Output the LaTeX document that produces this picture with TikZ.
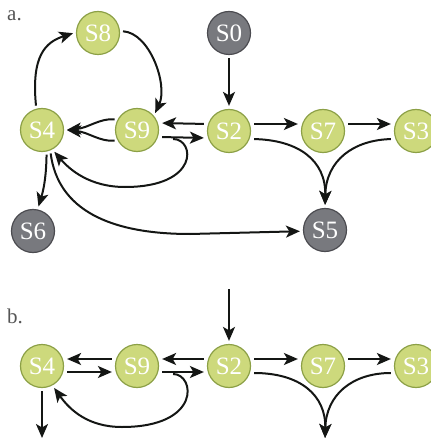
\documentclass[tikz,border=0pt]{standalone}
\usepackage{fontspec}
\setmainfont{Liberation Serif}
\usetikzlibrary{arrows.meta}
\definecolor{gfill}{RGB}{205,217,124}
\definecolor{gdraw}{RGB}{140,160,70}
\definecolor{kfill}{RGB}{120,121,126}
\definecolor{kdraw}{RGB}{75,75,80}
\definecolor{lbl}{RGB}{85,85,85}
\definecolor{ink}{RGB}{20,22,20}
\begin{document}
\begin{tikzpicture}[x=1pt,y=1pt,
 state/.style={circle, minimum size=43pt, inner sep=0pt, line width=1.2pt, text=white, font=\fontsize{25}{25}\selectfont},
 gst/.style={state, fill=gfill, draw=gdraw},
 kst/.style={state, fill=kfill, draw=kdraw},
 arr/.style={-{Stealth[length=14pt,width=12pt,inset=3.5pt]}, line width=2pt, draw=ink, shorten <=3pt, shorten >=3pt},
 lab/.style={anchor=base west, inner sep=0pt, text=lbl, font=\fontsize{21}{21}\selectfont}]
\useasboundingbox (0,0) rectangle (430,-438);

% ---------- part a ----------
\node[lab] (la) at (7,-21) {a.};
\node[gst] (S8) at (98,-33) {S8};
\node[kst] (S0) at (229,-33) {S0};
\node[gst] (S4) at (42,-130) {S4};
\node[gst] (S9) at (137,-130) {S9};
\node[gst] (S2) at (229,-131) {S2};
\node[gst] (S7) at (323,-131) {S7};
\node[gst] (S3) at (416,-131) {S3};
\node[kst] (S6) at (33,-231) {S6};
\node[kst] (S5) at (325,-230) {S5};

\draw[arr] (S4.105) .. controls (31,-55) and (46,-42) .. (S8.178);
\draw[arr] (S8.5) .. controls (150,-33) and (168,-85) .. (S9.40);
\draw[arr] (S9.152) .. controls (100,-118) and (88,-128) .. (S4.east);
\draw[arr] (S9.208) .. controls (100,-142) and (88,-132) .. (S4.east);
\draw[arr] ([yshift=7pt]S2.west) -- ([yshift=7pt]S9.east);
\draw[arr] ([yshift=-7pt]S9.east) -- ([yshift=-7pt]S2.west);
\draw[arr] ([shift={(11pt,-9pt)}]S9.east) .. controls (195,-139) and (200,-187) .. (125,-187)
   .. controls (90,-187) and (70,-170) .. (S4.-62);
\draw[arr] (S4.-78) to[bend left=8] (S6.78);
\draw[arr] (S4.-68) .. controls (58,-210) and (110,-234) .. (190,-234) -- (S5.183);
\draw[arr] (S0) -- (S2);
\draw[arr] ([yshift=7pt]S2.east) -- ([yshift=7pt]S7.west);
\draw[arr] ([yshift=7pt]S7.east) -- ([yshift=7pt]S3.west);
\draw[arr] ([yshift=-8pt]S2.east) .. controls (298,-140) and (326,-160) .. (S5.north);
\draw[arr] ([yshift=-8pt]S3.west) .. controls (354,-140) and (326,-160) .. (S5.north);

% ---------- part b ----------
\node[lab] (lb) at (7,-323) {b.};
\node[gst] (B4) at (42,-366) {S4};
\node[gst] (B9) at (137,-366) {S9};
\node[gst] (B2) at (229,-366) {S2};
\node[gst] (B7) at (323,-366) {S7};
\node[gst] (B3) at (416,-366) {S3};
\coordinate (in2) at (229,-286);
\coordinate (out4) at (42,-441);
\coordinate (out5) at (325,-441);

\draw[arr] ([yshift=7pt]B9.west) -- ([yshift=7pt]B4.east);
\draw[arr] ([yshift=-6pt]B4.east) -- ([yshift=-6pt]B9.west);
\draw[arr] ([yshift=7pt]B2.west) -- ([yshift=7pt]B9.east);
\draw[arr] ([yshift=-6pt]B9.east) -- ([yshift=-6pt]B2.west);
\draw[arr] ([shift={(11pt,-8pt)}]B9.east) .. controls (195,-374) and (202,-427) .. (122,-427)
   .. controls (88,-427) and (70,-410) .. (B4.-62);
\draw[arr] (B4.south) -- (out4);
\draw[arr] (in2) -- (B2.north);
\draw[arr] ([yshift=7pt]B2.east) -- ([yshift=7pt]B7.west);
\draw[arr] ([yshift=7pt]B7.east) -- ([yshift=7pt]B3.west);
\draw[arr] ([yshift=-7pt]B2.east) .. controls (300,-373) and (326,-395) .. (out5);
\draw[arr] ([yshift=-7pt]B3.west) .. controls (352,-373) and (326,-395) .. (out5);
\end{tikzpicture}
\end{document}
